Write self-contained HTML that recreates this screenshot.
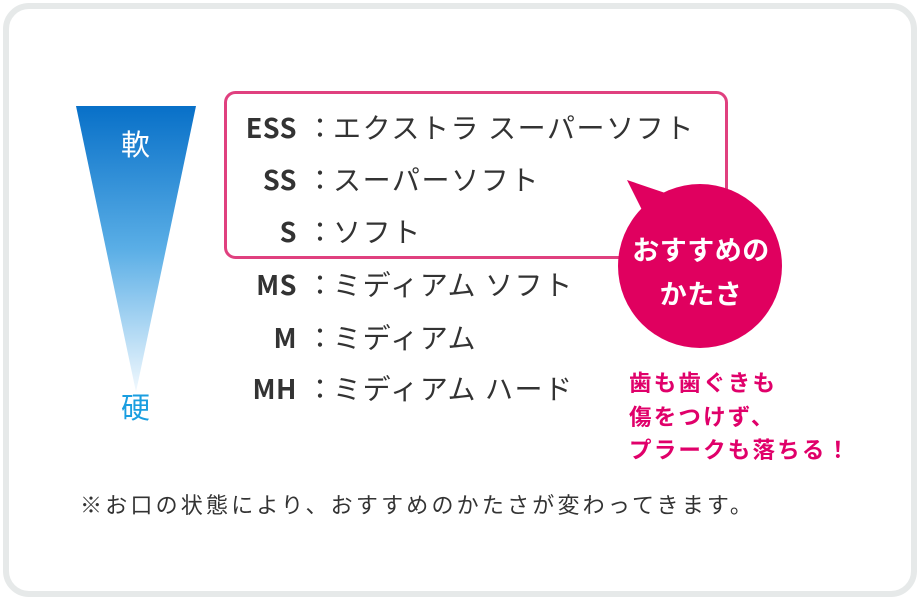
<!DOCTYPE html>
<html><head><meta charset="utf-8"><style>
body{margin:0;width:920px;height:600px;background:#fff;font-family:"Noto Sans CJK JP","Liberation Sans",sans-serif;position:relative;overflow:hidden}
.frame{position:absolute;left:3px;top:3px;width:902px;height:582px;border:6px solid #e6e9e9;border-radius:26px}
.t{position:absolute;white-space:nowrap}
.row{position:absolute;left:200px;width:520px;height:40px;font-size:28px;line-height:40px;color:#333}
.row .l{position:absolute;right:423px;font-weight:bold;top:0;font-size:27px;letter-spacing:0.5px}
.row .c{position:absolute;left:106px;top:0}
.row .v{position:absolute;left:133px;top:0;letter-spacing:1.6px}
</style></head><body>
<div class="frame"></div>
<svg width="920" height="600" style="position:absolute;left:0;top:0">
<defs><linearGradient id="g" x1="0" y1="0" x2="0" y2="1">
<stop offset="0" stop-color="#0870c8"/><stop offset="0.5" stop-color="#5aaee6"/><stop offset="1" stop-color="#f2f9fe"/></linearGradient></defs>
<polygon points="76,106 196,106 136,392" fill="url(#g)"/>
<rect x="225.5" y="92.5" width="501" height="165" rx="10" fill="none" stroke="#e0407f" stroke-width="3"/>
<polygon points="627,180 680,198 650,226" fill="#e0005f"/>
<circle cx="700" cy="266" r="82" fill="#e0005f"/>
</svg>
<div class="t" style="left:121px;top:123px;font-size:29px;line-height:40px;color:#fff">軟</div>
<div class="t" style="left:121px;top:386px;font-size:29px;line-height:40px;color:#1a9ee0">硬</div>
<div class="row" style="top:107px"><span class="l">ESS</span><span class="c">：</span><span class="v">エクストラ スーパーソフト</span></div>
<div class="row" style="top:159px"><span class="l">SS</span><span class="c">：</span><span class="v">スーパーソフト</span></div>
<div class="row" style="top:211px"><span class="l">S</span><span class="c">：</span><span class="v">ソフト</span></div>
<div class="row" style="top:264px"><span class="l">MS</span><span class="c">：</span><span class="v">ミディアム ソフト</span></div>
<div class="row" style="top:317px"><span class="l">M</span><span class="c">：</span><span class="v">ミディアム</span></div>
<div class="row" style="top:368px"><span class="l">MH</span><span class="c">：</span><span class="v">ミディアム ハード</span></div>
<div class="t" style="left:618px;top:227px;width:166px;text-align:center;font-size:27px;font-weight:bold;color:#fff;line-height:44px;letter-spacing:0.5px">おすすめの<br>かたさ</div>
<div class="t" style="left:629px;top:366px;font-size:22.5px;font-weight:bold;color:#e0006a;line-height:33.5px;letter-spacing:2.2px">歯も歯ぐきも<br>傷をつけず、<br>プラークも落ちる！</div>
<div class="t" style="left:80px;top:489px;font-size:22px;line-height:30px;color:#333;letter-spacing:3.2px">※お口の状態により、おすすめのかたさが変わってきます。</div>
</body></html>
